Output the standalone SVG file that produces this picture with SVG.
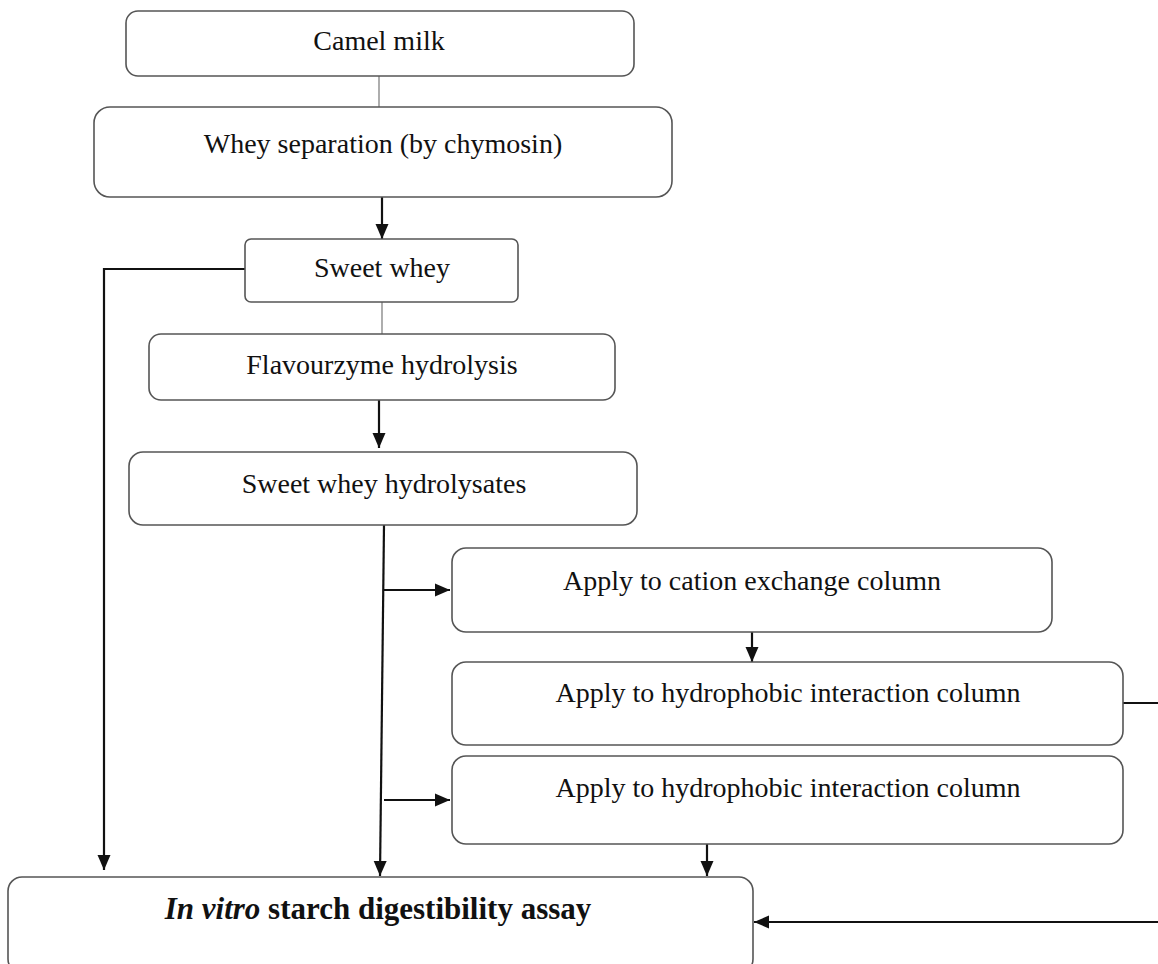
<svg xmlns="http://www.w3.org/2000/svg" width="1158" height="964" viewBox="0 0 1158 964">
<style>
.box{fill:#fff;stroke:#555;stroke-width:1.6}
.t{font-family:"Liberation Serif","Times New Roman",serif;font-size:28px;fill:#111;text-anchor:middle}
.big{font-size:31px;font-weight:bold}
.c{fill:none;stroke:#111;stroke-width:2.2}
.thin{fill:none;stroke:#777;stroke-width:1.2}
</style>
<defs>
<marker id="ah" markerUnits="userSpaceOnUse" markerWidth="16" markerHeight="14" refX="15" refY="7" orient="auto">
<path d="M0,0.5 L15,7 L0,13.5 Z" fill="#111"/>
</marker>
</defs>
<rect width="1158" height="964" fill="#fff"/>
<g id="connectors">
<line class="thin" x1="379" y1="76" x2="379" y2="107"/>
<line class="c" x1="382" y1="197" x2="382" y2="239" marker-end="url(#ah)"/>
<polyline class="c" points="245,269 104,269 104,870" marker-end="url(#ah)"/>
<line class="thin" x1="382" y1="302" x2="382" y2="334"/>
<line class="c" x1="379" y1="400" x2="379" y2="448" marker-end="url(#ah)"/>
<line class="c" x1="384" y1="525" x2="380" y2="876" marker-end="url(#ah)"/>
<line class="c" x1="384" y1="590" x2="450" y2="590" marker-end="url(#ah)"/>
<line class="c" x1="752" y1="632" x2="752" y2="662" marker-end="url(#ah)"/>
<line class="c" x1="1123" y1="703" x2="1160" y2="703"/>
<line class="c" x1="384" y1="800" x2="450" y2="800" marker-end="url(#ah)"/>
<line class="c" x1="707" y1="844" x2="707" y2="876" marker-end="url(#ah)"/>
<line class="c" x1="1160" y1="922" x2="754" y2="922" marker-end="url(#ah)"/>
</g>
<g id="camel-milk">
<rect class="box" x="126" y="11" width="508" height="65" rx="12"/>
<text class="t" x="379" y="50">Camel milk</text>
</g>
<g id="whey-separation">
<rect class="box" x="94" y="107" width="578" height="90" rx="16"/>
<text class="t" x="383" y="153">Whey separation (by chymosin)</text>
</g>
<g id="sweet-whey">
<rect class="box" x="245" y="239" width="273" height="63" rx="6"/>
<text class="t" x="382" y="277">Sweet whey</text>
</g>
<g id="flavourzyme">
<rect class="box" x="149" y="334" width="466" height="66" rx="12"/>
<text class="t" x="382" y="374">Flavourzyme hydrolysis</text>
</g>
<g id="hydrolysates">
<rect class="box" x="129" y="452" width="508" height="73" rx="14"/>
<text class="t" x="384" y="493">Sweet whey hydrolysates</text>
</g>
<g id="cation">
<rect class="box" x="452" y="548" width="600" height="84" rx="14"/>
<text class="t" x="752" y="590">Apply to cation exchange column</text>
</g>
<g id="hydrophobic-1">
<rect class="box" x="452" y="662" width="671" height="83" rx="14"/>
<text class="t" x="788" y="702">Apply to hydrophobic interaction column</text>
</g>
<g id="hydrophobic-2">
<rect class="box" x="452" y="756" width="671" height="88" rx="14"/>
<text class="t" x="788" y="797">Apply to hydrophobic interaction column</text>
</g>
<g id="assay">
<rect class="box" x="8" y="877" width="745" height="96" rx="14"/>
<text class="t big" x="378" y="919"><tspan font-style="italic">In vitro</tspan> starch digestibility assay</text>
</g>
</svg>
